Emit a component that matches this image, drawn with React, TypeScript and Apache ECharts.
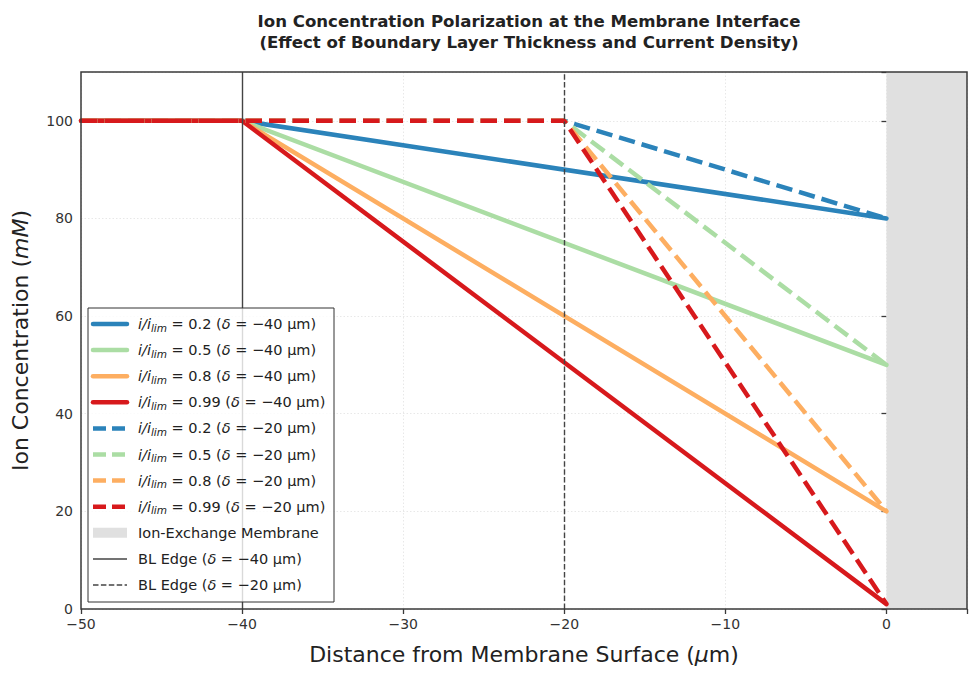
import React, { useEffect, useRef } from "react";
import * as echarts from "echarts";

const currentRatios = ["0.2", "0.5", "0.8", "0.99"];
const colors = ["#2b83ba", "#abdda4", "#fdae61", "#d7191c"];
const bulkConc = 100;
const xStart = -50;
const blEdges = [-40, -20];
const surfaceConc40 = [80, 50, 20, 1];
const surfaceConc20 = [80, 50, 20, 1];
const membraneRange = [0, 5];
const xTicks = [-50, -40, -30, -20, -10, 0];
const yTicks = [0, 20, 40, 60, 80, 100];

const FONT = "DejaVu Sans";
const LW = 4.5;
const DASH = [16.5, 7];

export default function App() {
  const ref = useRef<HTMLDivElement>(null);
  useEffect(() => {
    const chart = echarts.init(ref.current!, null, { renderer: "svg" });
    const series: any[] = [];
    const sets = [
      { edge: blEdges[0], ends: surfaceConc40, dashed: false },
      { edge: blEdges[1], ends: surfaceConc20, dashed: true },
    ];
    sets.forEach((s) => {
      s.ends.forEach((end, i) => {
        series.push({
          type: "line",
          name: `${currentRatios[i]} ${s.edge}`,
          data: [
            [xStart, bulkConc],
            [s.edge, bulkConc],
            [0, end],
          ],
          showSymbol: false,
          symbol: "none",
          lineStyle: {
            color: colors[i],
            width: LW,
            type: s.dashed ? DASH : "solid",
            cap: s.dashed ? "butt" : "round",
          },
          z: 3,
        });
      });
    });
    series.unshift({
      type: "line",
      data: [],
      markArea: {
        silent: true,
        itemStyle: { color: "#e0e0e0" },
        data: [[{ xAxis: membraneRange[0] }, { xAxis: membraneRange[1] }]],
      },
      markLine: {
        silent: true,
        symbol: "none",
        label: { show: false },
        data: [
          { xAxis: blEdges[0], lineStyle: { color: "#444", width: 1.4, type: "solid" } },
          { xAxis: blEdges[1], lineStyle: { color: "#444", width: 1.4, type: [5.5, 2.4] } },
        ],
      },
      z: 1,
    });

    const legendRows: any[] = [];
    const rowY0 = 324;
    const rowStep = 26.1;
    const lx1 = 93, lx2 = 127, tx = 138;
    const FS = 14.5;
    let r = 0;
    const mkText = (y: number, rich: string) => ({
      type: "text",
      x: tx,
      y,
      z: 101,
      style: {
        text: rich,
        verticalAlign: "middle",
        fill: "#222",
        font: `${FS}px '${FONT}'`,
        rich: {
          n: { fontSize: FS, fontFamily: FONT, fill: "#222" },
          it: { fontSize: FS, fontFamily: FONT, fontStyle: "italic", fill: "#222" },
          sub: { fontSize: 10.5, fontFamily: FONT, fontStyle: "italic", fill: "#222", padding: [7, 0, 0, 0] },
        },
      },
    });
    sets.forEach((s) => {
      currentRatios.forEach((ratio, i) => {
        const y = rowY0 + r * rowStep;
        legendRows.push({
          type: "line",
          z: 101,
          shape: { x1: lx1, y1: y, x2: lx2, y2: y },
          style: { stroke: colors[i], lineWidth: LW, lineDash: s.dashed ? [13, 6] : null, lineCap: s.dashed ? "butt" : "round" },
        });
        legendRows.push(
          mkText(y, `{it|i/i}{sub|lim}{n| = ${ratio} (}{it|δ}{n| = −${Math.abs(s.edge)} μm)}`)
        );
        r++;
      });
    });
    {
      const y = rowY0 + r * rowStep;
      legendRows.push({ type: "rect", z: 101, shape: { x: lx1, y: y - 5, width: lx2 - lx1, height: 10 }, style: { fill: "#e0e0e0" } });
      legendRows.push(mkText(y, `{n|Ion-Exchange Membrane}`));
      r++;
    }
    blEdges.forEach((edge, k) => {
      const y = rowY0 + r * rowStep;
      legendRows.push({
        type: "line",
        z: 101,
        shape: { x1: lx1, y1: y, x2: lx2, y2: y },
        style: { stroke: "#444", lineWidth: 1.5, lineDash: k === 1 ? [5.5, 2.4] : null },
      });
      legendRows.push(mkText(y, `{n|BL Edge (}{it|δ}{n| = −${Math.abs(edge)} μm)}`));
      r++;
    });

    chart.setOption({
      animation: false,
      backgroundColor: "#ffffff",
      textStyle: { fontFamily: FONT },
      title: {
        text: "Ion Concentration Polarization at the Membrane Interface\n(Effect of Boundary Layer Thickness and Current Density)",
        left: 524,
        top: 6,
        textAlign: "center",
        textStyle: { fontFamily: FONT, fontSize: 16.6, fontWeight: "bold", color: "#222", lineHeight: 21 },
      },
      grid: {
        left: 81,
        right: 978 - 967,
        top: 72,
        bottom: 677 - 609,
        show: false,
      },
      xAxis: {
        type: "value",
        min: -50,
        max: 5,
        interval: 10,
        name: "{n|Distance from Membrane Surface (}{it|μ}{n|m)}",
        nameLocation: "middle",
        nameGap: 34,
        nameTextStyle: {
          rich: {
            n: { fontSize: 22, fontFamily: FONT, color: "#222" },
            it: { fontSize: 22, fontFamily: FONT, fontStyle: "italic", color: "#222" },
          },
        },
        axisLine: { show: false },
        axisTick: { show: true, length: 5, lineStyle: { color: "#3a3a3a", width: 1.3 } },
        axisLabel: {
          fontSize: 14,
          color: "#333",
          margin: 8,
          formatter: (v: number) => (xTicks.includes(v) ? String(v).replace("-", "−") : ""),
        },
        splitLine: { show: true, lineStyle: { color: "#e2e2e2", width: 0.8, type: [1.5, 2] } },
      },
      yAxis: {
        type: "value",
        min: 0,
        max: 110,
        interval: 20,
        name: "{n|Ion Concentration (}{it|mM}{n|)}",
        nameLocation: "middle",
        nameGap: 50,
        nameTextStyle: {
          rich: {
            n: { fontSize: 22, fontFamily: FONT, color: "#222" },
            it: { fontSize: 22, fontFamily: FONT, fontStyle: "italic", color: "#222" },
          },
        },
        axisLine: { show: false },
        axisTick: { show: true, length: 5, lineStyle: { color: "#3a3a3a", width: 1.3 } },
        axisLabel: {
          fontSize: 14,
          color: "#333",
          margin: 8,
          formatter: (v: number) => (yTicks.includes(v) ? String(v) : ""),
        },
        splitLine: { show: true, lineStyle: { color: "#e2e2e2", width: 0.8, type: [1.5, 2] } },
      },
      series,
      graphic: [
        {
          type: "rect",
          z: 90,
          silent: true,
          shape: { x: 81, y: 72, width: 886, height: 537 },
          style: { fill: null, stroke: "#3a3a3a", lineWidth: 1.5 },
        },
        {
          type: "rect",
          z: 100,
          shape: { x: 88, y: 308, width: 246, height: 294 },
          style: { fill: "rgba(255,255,255,0.8)", stroke: "#333", lineWidth: 1 },
        },
        ...legendRows,
      ],
    });
    return () => chart.dispose();
  }, []);
  return <div ref={ref} style={{ width: 978, height: 677, margin: -8 }} />;
}
